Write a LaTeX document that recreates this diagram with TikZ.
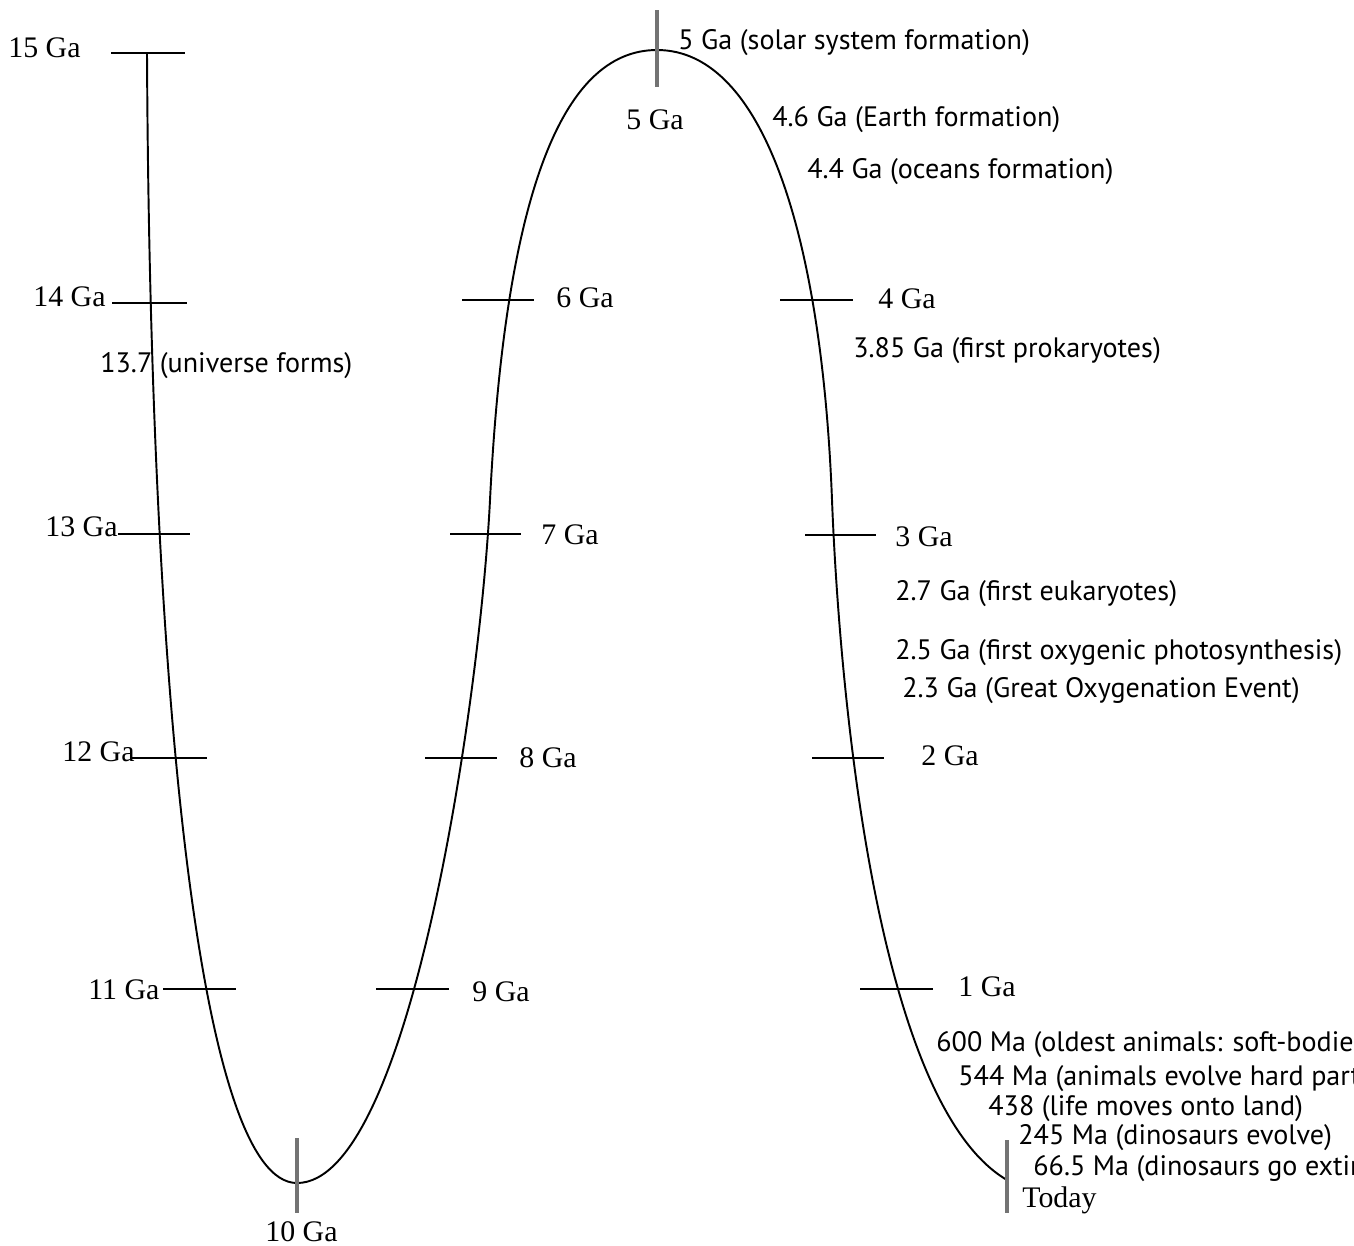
\documentclass[tikz,border=0pt]{standalone}
\usepackage{fontspec}
\setmainfont{Liberation Serif}
\newfontfamily\evfont{PT Sans}
\usetikzlibrary{positioning}
\tikzset{
    timeline/.style={line width=1.1pt},
    tick/.style={line width=1.1pt},
    vtick/.style={line width=2.2pt, black!55},
    gaLabel/.style={anchor=west, inner sep=0pt, font=\fontsize{17}{19}\selectfont},
    evLabel/.style={anchor=west, inner sep=0pt, font=\evfont\fontsize{16}{18}\selectfont},
}

\begin{document}
\begin{tikzpicture}[x=0.02cm, y=-0.02cm]
    \useasboundingbox (0,0) rectangle (1354,1245);
    \clip (0,0) rectangle (1354,1245);

    % the time line
    \coordinate (start) at (147,52);
    \coordinate (bottom) at (297,1183);
    \coordinate (mid) at (490,500);
    \coordinate (top) at (657,50);
    \coordinate (right) at (832,500);
    \coordinate (end) at (1007,1180);
    \draw[timeline] (start) .. controls (150,700) and (200,1183) .. (bottom)
        .. controls (410,1183) and (480,700) .. (mid)
        .. controls (505,200) and (560,50) .. (top)
        .. controls (765,50) and (822,240) .. (right)
        .. controls (838,656) and (870,1100) .. (end);

    % ticks
    \draw[tick] (111,53) -- (185,53);
    \draw[tick] (112,303) -- (187,303);
    \draw[tick] (118,534) -- (190,534);
    \draw[tick] (130,758) -- (207,758);
    \draw[tick] (163,989) -- (236,989);
    \draw[tick] (376,989) -- (449,989);
    \draw[tick] (425,758) -- (497,758);
    \draw[tick] (450,534) -- (521,534);
    \draw[tick] (462,300) -- (534,300);
    \draw[tick] (780,300) -- (853,300);
    \draw[tick] (805,535) -- (876,535);
    \draw[tick] (812,758) -- (884,758);
    \draw[tick] (860,989) -- (933,989);
    \draw[vtick] (657,10) -- (657,87);
    \draw[vtick] (297,1138) -- (297,1213);
    \draw[vtick] (1007,1140) -- (1007,1213);

    % Ga labels
    \node[gaLabel] (l15) at (8,48) {15 Ga};
    \node[gaLabel] (l14) at (33,297) {14 Ga};
    \node[gaLabel] (l13) at (45,527) {13 Ga};
    \node[gaLabel] (l12) at (62,752) {12 Ga};
    \node[gaLabel] (l11) at (88,990) {11 Ga};
    \node[gaLabel] (l10) at (265,1232) {10 Ga};
    \node[gaLabel] (l9) at (472,992) {9 Ga};
    \node[gaLabel] (l8) at (519,758) {8 Ga};
    \node[gaLabel] (l7) at (541,535) {7 Ga};
    \node[gaLabel] (l6) at (556,298) {6 Ga};
    \node[gaLabel] (l5) at (626,120) {5 Ga};
    \node[gaLabel] (l4) at (878,299) {4 Ga};
    \node[gaLabel] (l3) at (895,537) {3 Ga};
    \node[gaLabel] (l2) at (921,756) {2 Ga};
    \node[gaLabel] (l1) at (958,987) {1 Ga};
    \node[gaLabel] (today) at (1022,1200) {Today};

    % events
    \node[evLabel] (universe) at (100,366) {13.7 (universe forms)};
    \node[evLabel] (solar) at (678,43) {5 Ga (solar system formation)};
    \node[evLabel] (earth) at (772,120) {4.6 Ga (Earth formation)};
    \node[evLabel] (oceans) at (807,172) {4.4 Ga (oceans formation)};
    \node[evLabel] (prok) at (853,351) {3.85 Ga (first prokaryotes)};
    \node[evLabel] (euk) at (895,594) {2.7 Ga (first eukaryotes)};
    \node[evLabel] (photo) at (895,653) {2.5 Ga (first oxygenic photosynthesis)};
    \node[evLabel] (goe) at (902,691) {2.3 Ga (Great Oxygenation Event)};
    \node[evLabel] (animals) at (936,1045) {600 Ma (oldest animals: soft-bodied invertebrates)};
    \node[evLabel] (hard) at (958,1079) {544 Ma (animals evolve hard parts)};
    \node[evLabel] (land) at (988,1109) {438 (life moves onto land)};
    \node[evLabel] (dinos) at (1018,1138) {245 Ma (dinosaurs evolve)};
    \node[evLabel] (extinct) at (1033,1169) {66.5 Ma (dinosaurs go extinct)};
\end{tikzpicture}
\end{document}
